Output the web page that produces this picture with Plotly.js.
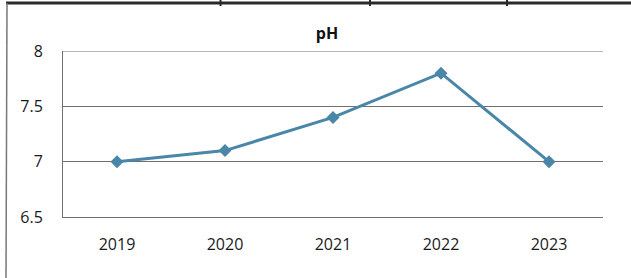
<!DOCTYPE html>
<html>
<head>
<meta charset="utf-8">
<script src="https://cdn.plot.ly/plotly-3.0.1.min.js"></script>
<style>
html,body{margin:0;padding:0;background:#fff;}
#chart{width:631px;height:278px;}
</style>
</head>
<body>
<div id="chart"></div>
<script>
const years = ['2019', '2020', '2021', '2022', '2023'];
const phValues = [7.0, 7.1, 7.4, 7.8, 7.0];
const yTicks = [6.5, 7, 7.5, 8];
const yTickLabels = ['6.5', '7', '7.5', '8'];

const W = 631, H = 278;
const L = 63, R = 603, T = 51, B = 217;
const px = x => (x - L) / (R - L);
const py = y => (B - y) / (B - T);

const frameColor = '#2a2a2a';
const gridColor = '#707070';
const yTop = Math.max(...yTicks);
const shapes = [
  {type:'line', xref:'paper', yref:'y', x0:0, x1:1, y0:yTop, y1:yTop, line:{color:gridColor, width:1}, layer:'below'},
  {type:'line', xref:'paper', yref:'paper', x0:px(6), x1:px(631), y0:py(3), y1:py(3), line:{color:frameColor, width:3}},
  {type:'line', xref:'paper', yref:'paper', x0:px(7), x1:px(6), y0:py(3), y1:py(278), line:{color:'#777', width:1.5}},
  {type:'line', xref:'paper', yref:'paper', x0:px(220.5), x1:px(220.5), y0:py(0), y1:py(6), line:{color:frameColor, width:2}},
  {type:'line', xref:'paper', yref:'paper', x0:px(370), x1:px(370), y0:py(0), y1:py(6), line:{color:frameColor, width:2}},
  {type:'line', xref:'paper', yref:'paper', x0:px(507), x1:px(507), y0:py(0), y1:py(6), line:{color:frameColor, width:2}}
];

const trace = {
  x: years,
  y: phValues,
  type: 'scatter',
  mode: 'lines+markers',
  line: {color: '#4A86A8', width: 3},
  marker: {symbol: 'diamond', size: 10, color: '#4A86A8'},
  hoverinfo: 'x+y'
};

const layout = {
  width: W, height: H,
  margin: {l: L, r: W - R, t: T, b: H - B, pad: 0},
  paper_bgcolor: '#fff',
  plot_bgcolor: '#fff',
  showlegend: false,
  font: {family: '"Open Sans", sans-serif', size: 16, color: '#1a1a1a'},
  title: {
    text: '<b>pH</b>',
    font: {family: '"Open Sans", sans-serif', size: 16, color: '#111'},
    x: 327 / W, xref: 'container', xanchor: 'center',
    y: 1 - 33 / H, yref: 'container', yanchor: 'middle'
  },
  xaxis: {
    type: 'category',
    range: [-0.5, 4.5],
    showgrid: false,
    showline: true,
    linecolor: gridColor,
    linewidth: 1,
    ticks: '',
    ticklabelstandoff: 13,
    tickfont: {size: 16, color: '#1a1a1a'},
    fixedrange: true
  },
  yaxis: {
    range: [6.5, 8],
    tickvals: yTicks,
    ticktext: yTickLabels,
    showgrid: true,
    gridcolor: gridColor,
    gridwidth: 1,
    showline: true,
    linecolor: gridColor,
    linewidth: 1,
    zeroline: false,
    ticks: '',
    ticklabelstandoff: 16,
    tickfont: {size: 16, color: '#1a1a1a'},
    fixedrange: true
  },
  shapes: shapes
};

Plotly.newPlot('chart', [trace], layout, {displayModeBar: false, staticPlot: true});
</script>
</body>
</html>
